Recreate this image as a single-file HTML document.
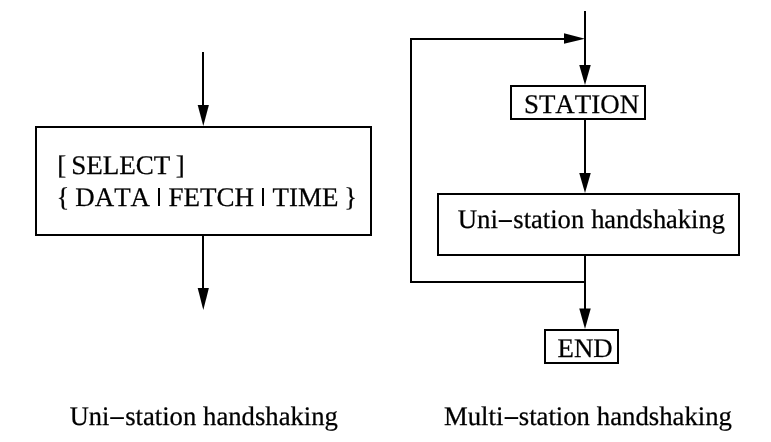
<!DOCTYPE html>
<html><head><meta charset="utf-8">
<style>
html,body{margin:0;padding:0;background:#fff;width:771px;height:442px;overflow:hidden}
svg{display:block;will-change:transform}
text{font-family:"Liberation Serif",serif;font-size:26.85px;fill:#000;font-kerning:none;text-rendering:geometricPrecision;stroke:#000;stroke-width:0.25px}
</style></head><body>
<svg width="771" height="442" viewBox="0 0 771 442">
<rect x="0" y="0" width="771" height="442" fill="#fff"/>
<g stroke="#000" stroke-width="2" fill="none">
<line x1="203" y1="52" x2="203" y2="110"/>
<rect x="36" y="127" width="335" height="108"/>
<line x1="203" y1="235" x2="203" y2="292"/>
<line x1="585" y1="11" x2="585" y2="70"/>
<rect x="511" y="86" width="134" height="33"/>
<line x1="585" y1="119" x2="585" y2="178"/>
<rect x="438" y="194" width="301" height="61"/>
<line x1="585" y1="255" x2="585" y2="312"/>
<rect x="545" y="330" width="73" height="33"/>
<polyline points="585,282 411,282 411,39 568,39"/>
</g>
<g fill="#000" stroke="none">
<polygon points="197.7,105 208.9,105 203.3,126"/>
<polygon points="197.7,288 208.9,288 203.3,310"/>
<polygon points="579.25,65 590.75,65 585,85"/>
<polygon points="579.25,173 590.75,173 585,193"/>
<polygon points="579.25,308.5 590.75,308.5 585,329"/>
<polygon points="564,33.25 564,43.75 585,38.7"/>
<rect x="158" y="188" width="2" height="18"/>
<rect x="262" y="188" width="2" height="18"/>
<rect x="498.7" y="220.1" width="13.2" height="1.9"/>
<rect x="110.2" y="417.2" width="13.7" height="1.8"/>
<rect x="504.6" y="417.1" width="13.6" height="1.9"/>
</g>
<text x="57.18" y="174">[</text>
<text x="71.17" y="174" textLength="99.18" lengthAdjust="spacingAndGlyphs">SELECT</text>
<text x="175.83" y="174">]</text>
<text x="56.61" y="206">{</text>
<text x="75.30" y="206" textLength="74.72" lengthAdjust="spacingAndGlyphs">DATA</text>
<text x="168.52" y="206" textLength="85.50" lengthAdjust="spacingAndGlyphs">FETCH</text>
<text x="272.64" y="206" textLength="65.79" lengthAdjust="spacingAndGlyphs">TIME</text>
<text x="344.34" y="206">}</text>
<text x="523.94" y="113" textLength="115.21" lengthAdjust="spacingAndGlyphs">STATION</text>
<text x="557.62" y="357" textLength="55.11" lengthAdjust="spacingAndGlyphs">END</text>
<text x="457.65" y="228">Uni</text>
<text x="513.30" y="228" textLength="70.91" lengthAdjust="spacingAndGlyphs">station</text>
<text x="591.14" y="228" textLength="133.79" lengthAdjust="spacingAndGlyphs">handshaking</text>
<text x="69.71" y="425" textLength="39.61" lengthAdjust="spacingAndGlyphs">Uni</text>
<text x="125.19" y="425" textLength="71.09" lengthAdjust="spacingAndGlyphs">station</text>
<text x="203.10" y="425" textLength="134.78" lengthAdjust="spacingAndGlyphs">handshaking</text>
<text x="443.90" y="425" textLength="59.45" lengthAdjust="spacingAndGlyphs">Multi</text>
<text x="518.81" y="425" textLength="71.16" lengthAdjust="spacingAndGlyphs">station</text>
<text x="596.82" y="425" textLength="135.18" lengthAdjust="spacingAndGlyphs">handshaking</text>
</svg>
</body></html>
